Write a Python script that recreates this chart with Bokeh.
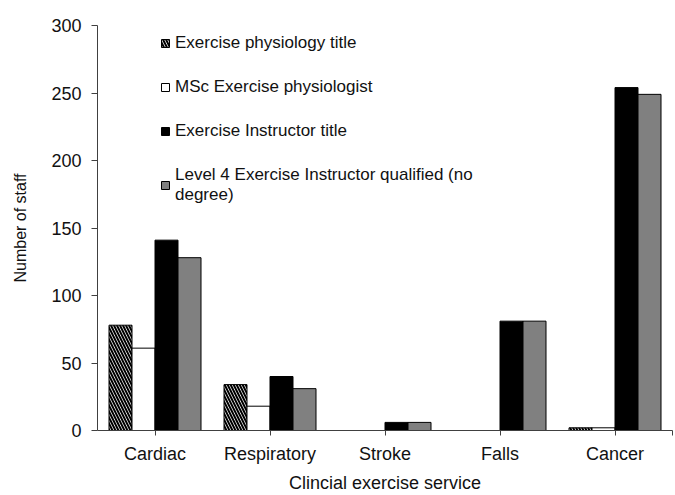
from bokeh.plotting import figure
from bokeh.models import ColumnDataSource, FixedTicker, Legend, LegendItem, Range1d
from bokeh.transform import dodge
from bokeh.embed import file_html
from bokeh.resources import INLINE

categories = ["Cardiac", "Respiratory", "Stroke", "Falls", "Cancer"]
physiology_title = [78, 34, 0, 0, 2]
msc_physiologist = [61, 18, 0, 0, 2]
instructor_title = [141, 40, 6, 81, 254]
level4_instructor = [128, 31, 6, 81, 249]
y_ticks = [0, 50, 100, 150, 200, 250, 300]

series_labels = [
    "Exercise physiology title",
    "MSc Exercise physiologist",
    "Exercise Instructor title",
    "Level 4 Exercise Instructor qualified (no\ndegree)",
]

positions = list(range(len(categories)))
src = ColumnDataSource(dict(
    pos=positions,
    phys=physiology_title,
    msc=msc_physiologist,
    instr=instructor_title,
    lvl4=level4_instructor,
))

FONT = "Liberation Sans"

p = figure(width=675, height=495, output_backend="svg", toolbar_location=None,
           x_range=Range1d(-0.5, len(categories) - 0.5), y_range=Range1d(0, 300),
           min_border_left=97, min_border_right=3, min_border_top=25, min_border_bottom=62)

w = 0.2
r1 = p.vbar(x=dodge("pos", -0.3, range=p.x_range), top="phys", width=w, source=src,
            fill_color="white", line_color="black", line_width=1,
            hatch_pattern="\\", hatch_color="black", hatch_scale=6, hatch_weight=2)
r2 = p.vbar(x=dodge("pos", -0.1, range=p.x_range), top="msc", width=w, source=src,
            fill_color="white", line_color="black", line_width=1)
r3 = p.vbar(x=dodge("pos", 0.1, range=p.x_range), top="instr", width=w, source=src,
            fill_color="black", line_color="black", line_width=1)
r4 = p.vbar(x=dodge("pos", 0.3, range=p.x_range), top="lvl4", width=w, source=src,
            fill_color="#808080", line_color="black", line_width=1)

legend = Legend(items=[LegendItem(label=lab, renderers=[r]) for lab, r in
                       zip(series_labels, [r1, r2, r3, r4])],
                location=(63, 225), padding=0, margin=0, spacing=24,
                glyph_width=10, glyph_height=10, label_height=20, label_standoff=5,
                label_text_font=FONT, label_text_font_size="17px",
                label_text_color="#111111",
                background_fill_alpha=0, border_line_alpha=0)
p.add_layout(legend)

p.xgrid.visible = False
p.ygrid.visible = False
p.outline_line_color = None

# x axis
overrides = {i: c for i, c in enumerate(categories)}
overrides[len(categories) - 0.5] = ""
p.xaxis.ticker = FixedTicker(ticks=positions + [len(categories) - 0.5])
p.xaxis.major_label_overrides = overrides
p.xaxis.axis_label = "Clincial exercise service"
p.yaxis.axis_label = "Number of staff"
p.yaxis.ticker = FixedTicker(ticks=y_ticks)

for ax in (p.xaxis, p.yaxis):
    ax.axis_line_color = "#404040"
    ax.major_tick_line_color = "#404040"
    ax.minor_tick_line_color = None
    ax.major_tick_in = 0
    ax.major_label_text_font = FONT
    ax.major_label_text_color = "#111111"
    ax.axis_label_text_font = FONT
    ax.axis_label_text_font_style = "normal"
    ax.axis_label_text_color = "#111111"

p.xaxis.major_tick_out = 5
p.xaxis.major_label_standoff = 8
p.xaxis.major_label_text_font_size = "18px"
p.xaxis.axis_label_text_font_size = "18px"
p.xaxis.axis_label_standoff = 6

p.yaxis.major_tick_out = 6
p.yaxis.major_label_standoff = 10
p.yaxis.major_label_text_font_size = "18px"
p.yaxis.axis_label_text_font_size = "16px"
p.yaxis.axis_label_standoff = 19

open("out.html", "w").write(file_html(p, INLINE))
